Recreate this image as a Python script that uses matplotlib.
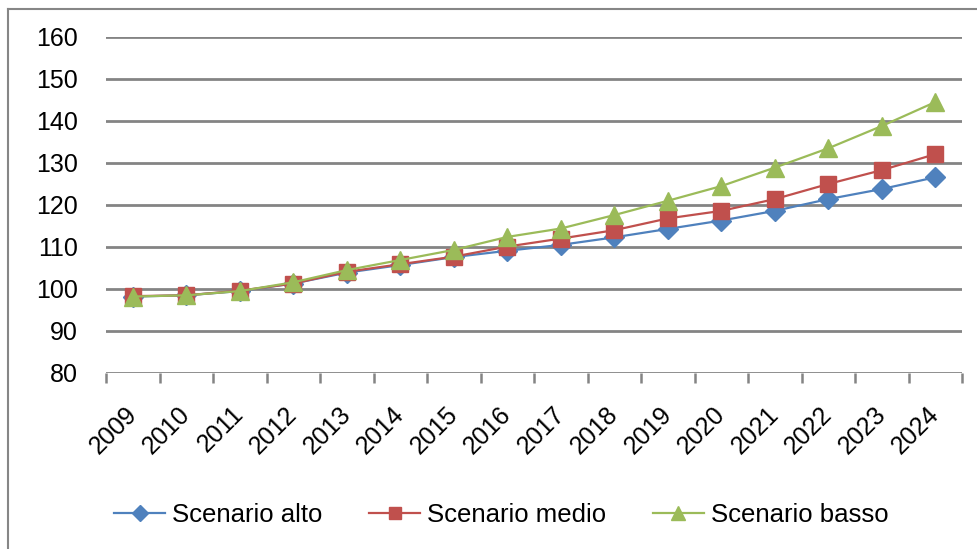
import matplotlib
matplotlib.use("Agg")
import matplotlib.pyplot as plt
from matplotlib.lines import Line2D

# Data
years = ["2009", "2010", "2011", "2012", "2013", "2014", "2015", "2016",
         "2017", "2018", "2019", "2020", "2021", "2022", "2023", "2024"]
alto = [98.2, 98.5, 99.5, 101.3, 103.9, 105.7, 107.6, 109.1,
        110.5, 112.3, 114.3, 116.3, 118.6, 121.4, 123.8, 126.6]
medio = [98.3, 98.5, 99.6, 101.3, 104.1, 105.9, 107.7, 110.1,
         112.0, 114.0, 116.8, 118.6, 121.4, 125.0, 128.3, 132.1]
basso = [98.2, 98.5, 99.5, 101.6, 104.5, 106.9, 109.3, 112.4,
         114.4, 117.6, 121.0, 124.5, 128.9, 133.5, 138.8, 144.5]
y_ticks = [80, 90, 100, 110, 120, 130, 140, 150, 160]

plt.rcParams["font.family"] = ["Liberation Sans", "DejaVu Sans"]

fig = plt.figure(figsize=(9.77, 5.49), dpi=100)
ax = fig.add_axes([106 / 977, 1 - 373 / 549, 856 / 977, 336 / 549])

x = list(range(len(years)))
ax.plot(x, alto, color="#4F81BD", lw=1.6, marker="D", ms=10, label="Scenario alto", zorder=3)
ax.plot(x, medio, color="#C0504D", lw=1.6, marker="s", ms=11, label="Scenario medio", zorder=4)
ax.plot(x, basso, color="#9BBB59", lw=1.6, marker="^", ms=13, label="Scenario basso", zorder=5)

ax.set_xlim(-0.5, len(years) - 0.5)
ax.set_ylim(80, 160)
ax.set_yticks(y_ticks)
ax.set_yticklabels([str(v) for v in y_ticks], fontsize=18)
ax.tick_params(axis="y", length=0, pad=20)

# gridlines
for v in y_ticks:
    ax.axhline(v, color="#848484", lw=2.0, zorder=1)

# category ticks sit on the boundaries between years
ax.set_xticks([i - 0.5 for i in range(len(years) + 1)], minor=True)
ax.set_xticks(x)
ax.set_xticklabels(years, fontsize=18, rotation=45, ha="right", va="center",
                   rotation_mode="anchor")
ax.tick_params(axis="x", which="major", length=0, pad=27)
ax.tick_params(axis="x", which="minor", length=7, color="#848484", width=1.8, direction="out")

for s in ["top", "right", "left", "bottom"]:
    ax.spines[s].set_visible(False)

# outer chart border (left and top edges visible)
fig.add_artist(Line2D([8 / 977, 8 / 977], [0.0, 1 - 9 / 549],
                      transform=fig.transFigure, color="#868686", lw=1.5))
fig.add_artist(Line2D([8 / 977, 1.0], [1 - 9 / 549, 1 - 9 / 549],
                      transform=fig.transFigure, color="#868686", lw=1.5))

fig.legend(loc="center", bbox_to_anchor=(0.513, 1 - 515 / 549), ncol=3,
           frameon=False, fontsize=18.5, handlelength=2.0, handletextpad=0.27,
           columnspacing=1.8, markerscale=0.8)

fig.savefig("out.png", dpi=100)
